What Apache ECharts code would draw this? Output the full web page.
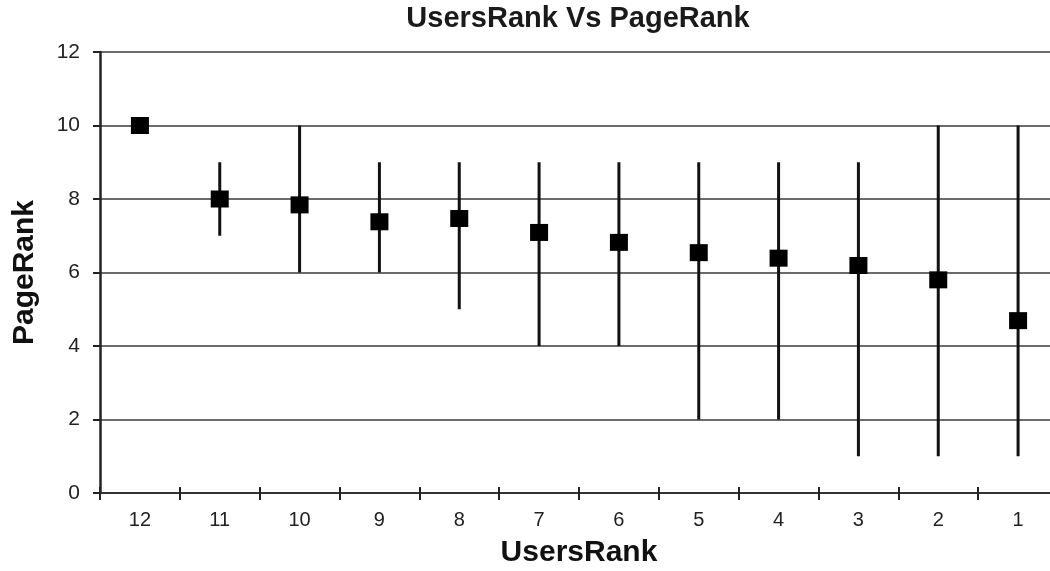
<!DOCTYPE html>
<html>
<head>
<meta charset="utf-8">
<title>UsersRank Vs PageRank</title>
<script src="https://cdn.jsdelivr.net/npm/echarts@6/dist/echarts.min.js"></script>
<style>
  html, body { margin: 0; padding: 0; background: #fff; }
  #chart { width: 1050px; height: 571px; }
</style>
</head>
<body>
<div id="chart"></div>
<script>
// Users' rank (12 = lowest) against the PageRank of the pages they visited
const userRanks = ['12', '11', '10', '9', '8', '7', '6', '5', '4', '3', '2', '1'];
const meanPageRank = [10.0, 8.0, 7.84, 7.38, 7.47, 7.09, 6.82, 6.54, 6.39, 6.19, 5.8, 4.69];
const minPageRank  = [10, 7, 6, 6, 5, 4, 4, 2, 2, 1, 1, 1];
const maxPageRank  = [10, 9, 10, 9, 9, 9, 9, 9, 9, 9, 10, 10];

const yMin = 0, yMax = 12, yStep = 2;

const rangeData = userRanks.map((r, i) => [i, minPageRank[i], maxPageRank[i]]);
const meanData = userRanks.map((r, i) => [i, meanPageRank[i]]);

const font = '"Liberation Sans", Arial, sans-serif';

const chart = echarts.init(document.getElementById('chart'), null, { renderer: 'canvas' });

chart.setOption({
  animation: false,
  backgroundColor: '#ffffff',
  title: {
    text: 'UsersRank Vs PageRank',
    left: 578,
    textAlign: 'center',
    top: 4,
    padding: 0,
    textStyle: { fontFamily: font, fontWeight: 'bold', fontSize: 29, color: '#1a1a1a' }
  },
  grid: { left: 100, top: 52, width: 958, height: 441, containLabel: false, outerBoundsMode: 'none' },
  xAxis: [
    {
      type: 'category',
      data: userRanks,
      boundaryGap: true,
      position: 'bottom',
      name: 'UsersRank',
      nameLocation: 'middle',
      nameGap: 45,
      nameTextStyle: { fontFamily: font, fontWeight: 'bold', fontSize: 30, color: '#111' },
      axisLine: { show: true, lineStyle: { color: '#333', width: 2 } },
      axisTick: { show: true, alignWithLabel: false, inside: false, length: 7, lineStyle: { color: '#222', width: 2 } },
      axisLabel: { fontFamily: font, fontSize: 20, color: '#222', margin: 17 },
      splitLine: { show: false }
    },
    {
      type: 'category',
      data: userRanks,
      boundaryGap: true,
      position: 'bottom',
      axisLine: { show: false },
      axisTick: { show: true, inside: true, length: 6, lineStyle: { color: '#222', width: 2 } },
      axisLabel: { show: false },
      splitLine: { show: false }
    }
  ],
  yAxis: {
    type: 'value',
    min: yMin,
    max: yMax,
    interval: yStep,
    name: 'PageRank',
    nameLocation: 'middle',
    nameGap: 60,
    nameTextStyle: { fontFamily: font, fontWeight: 'bold', fontSize: 30, color: '#111' },
    axisLine: { show: true, lineStyle: { color: '#222', width: 2.5 } },
    axisTick: { show: true, inside: false, length: 7, lineStyle: { color: '#222', width: 2 } },
    axisLabel: { fontFamily: font, fontSize: 21, color: '#222', margin: 20 },
    splitLine: { show: true, lineStyle: { color: '#3a3a3a', width: 1.6 } }
  },
  series: [
    {
      name: 'range',
      type: 'custom',
      xAxisIndex: 0,
      data: rangeData,
      z: 3,
      renderItem: function (params, api) {
        const x = api.value(0);
        const lo = api.coord([x, api.value(1)]);
        const hi = api.coord([x, api.value(2)]);
        return {
          type: 'line',
          shape: { x1: lo[0], y1: lo[1], x2: hi[0], y2: hi[1] },
          style: { stroke: '#111', lineWidth: 3 }
        };
      }
    },
    {
      name: 'mean',
      type: 'scatter',
      xAxisIndex: 0,
      data: meanData,
      symbol: 'rect',
      symbolSize: [18, 17],
      itemStyle: { color: '#000', opacity: 1 },
      z: 4
    }
  ]
});
</script>
</body>
</html>
